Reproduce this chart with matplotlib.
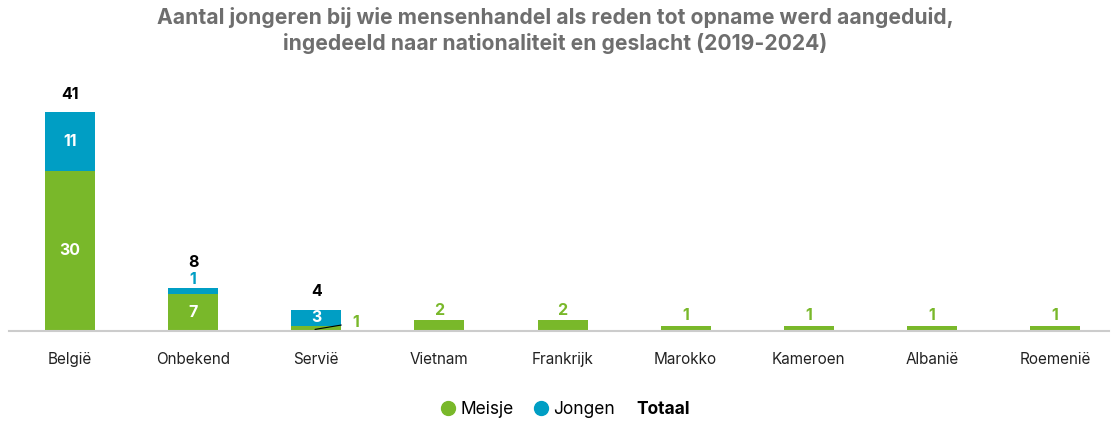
import matplotlib
matplotlib.use("Agg")
import matplotlib.pyplot as plt
from matplotlib.lines import Line2D

categories = ["België", "Onbekend", "Servië", "Vietnam", "Frankrijk", "Marokko", "Kameroen", "Albanië", "Roemenië"]
meisje = [30, 7, 1, 2, 2, 1, 1, 1, 1]
jongen = [11, 1, 3, 0, 0, 0, 0, 0, 0]
totaal = [m + j for m, j in zip(meisje, jongen)]

GREEN = "#79b82a"
BLUE = "#009ec4"
FONT = ["Inter", "DejaVu Sans"]
plt.rcParams["font.family"] = FONT

W, H = 1111, 422
fig = plt.figure(figsize=(W / 100, H / 100), dpi=100)
ppu_x = 985 / 8
ax_left, ax_right = 9, 1109
ax = fig.add_axes([ax_left / W, (H - 331) / H, (ax_right - ax_left) / W, (331 - 90) / H])
ax.set_xlim(-(70 - ax_left) / ppu_x, 8 + (ax_right - 1055) / ppu_x)
ppu_y = 219 / 41
ax.set_ylim(0, (331 - 90) / ppu_y)

x = list(range(len(categories)))
bw = 50 / ppu_x
ax.bar(x, meisje, width=bw, color=GREEN, zorder=2)
ax.bar(x, jongen, width=bw, bottom=meisje, color=BLUE, zorder=2)

for s in ["top", "right", "left"]:
    ax.spines[s].set_visible(False)
ax.spines["bottom"].set_color("#cccccc")
ax.spines["bottom"].set_linewidth(1.5)
ax.set_yticks([])
ax.set_xticks(x)
ax.set_xticklabels(categories, fontsize=11, color="#222222")
ax.tick_params(axis="x", length=0, pad=15)

def px(v):
    return v / ppu_y

lab_kw = dict(ha="center", va="center", fontsize=11.5, fontweight="bold")
for i, (m, j, t) in enumerate(zip(meisje, jongen, totaal)):
    if m >= 5:
        ax.text(i, m / 2, str(m), color="white", **lab_kw)
    elif j == 0:
        ax.text(i, m + px(10), str(m), color=GREEN, **lab_kw)
    else:
        ax.annotate(str(m), xy=(i - 0.01, m * 0.3), xytext=(i + 0.32, m + px(3)),
                    color=GREEN, ha="center", va="center", fontsize=11.5, fontweight="bold",
                    arrowprops=dict(arrowstyle="-", color="black", lw=0.8,
                                    shrinkA=6, shrinkB=0))
    if j > 0:
        if j >= 3:
            ax.text(i, m + j / 2, str(j), color="white", **lab_kw)
        else:
            ax.text(i, m + j + px(9), str(j), color=BLUE, **lab_kw)
        top = m + j + (px(26) if j < 3 else px(18))
        ax.text(i, top, str(t), color="black", **lab_kw)

fig.text(0.5, 1 - 7 / H, "Aantal jongeren bij wie mensenhandel als reden tot opname werd aangeduid,\n"
         "ingedeeld naar nationaliteit en geslacht (2019-2024)",
         ha="center", va="top", fontsize=15.2, fontweight="bold", color="#6e6e6e",
         linespacing=1.3)

handles = [
    Line2D([], [], marker="o", linestyle="", color=GREEN, markersize=10, label="Meisje"),
    Line2D([], [], marker="o", linestyle="", color=BLUE, markersize=10, label="Jongen"),
]
leg = fig.legend(handles=handles, loc="center left", bbox_to_anchor=(436 / W, (H - 410) / H),
                 ncol=2, frameon=False, fontsize=12.5, handletextpad=0.0,
                 columnspacing=0.9, handlelength=1.4, borderpad=0, borderaxespad=0)
fig.text(636 / W, (H - 410) / H, "Totaal", ha="left", va="center", fontsize=12.5,
         fontweight="bold", color="black")

fig.savefig("out.png", dpi=100)
